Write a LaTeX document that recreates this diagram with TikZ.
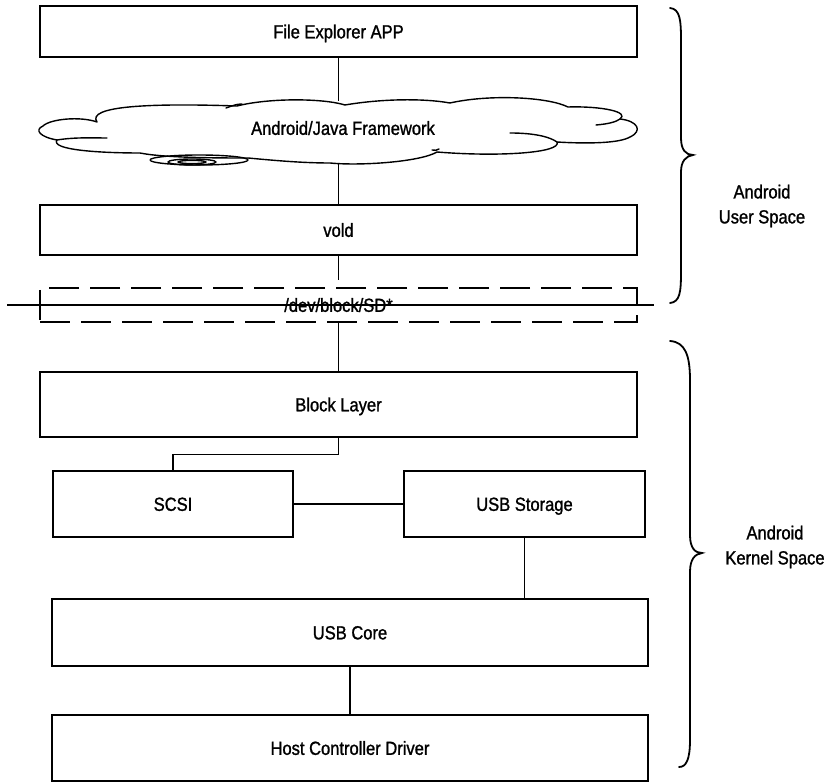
\documentclass[tikz,border=0pt]{standalone}
\usepackage{fontspec}
\setmainfont{Liberation Sans}[FakeStretch=0.87,FakeBold=1.2]
\begin{document}
\begin{tikzpicture}[x=1pt,y=-1pt,
  txt/.style={font=\fontsize{19}{24}\selectfont, text height=13.7pt, text depth=0pt},
  box/.style={draw, line width=1.4pt, inner sep=0pt, txt},
  dbox/.style={draw, line width=1.4pt, inner sep=0pt, dash pattern=on 30pt off 11pt, txt},
  conn/.style={line width=1.3pt},
  brace/.style={line width=1.8pt, line cap=round},
  lbl/.style={align=center, font=\fontsize{19}{25}\selectfont, inner sep=0pt},
  cloudline/.style={line width=1.4pt, line cap=round, line join=round}]
\useasboundingbox (0,0) rectangle (828,783);

% boxes
\node[box, minimum width=597pt, minimum height=51pt] (fe) at (338.5,31.5) {File Explorer APP};
\node[box, minimum width=597pt, minimum height=50pt] (vold) at (338.5,230) {vold};
\node[dbox, minimum width=597pt, minimum height=34pt] (dev) at (338.5,305) {/dev/block/SD*};
\node[box, minimum width=597pt, minimum height=65pt] (block) at (338.5,404.5) {Block Layer};
\node[box, minimum width=240pt, minimum height=66pt] (scsi) at (173,504) {SCSI};
\node[box, minimum width=241pt, minimum height=66pt] (usbs) at (524.5,504) {USB Storage};
\node[box, minimum width=596pt, minimum height=67pt] (core) at (350,632.5) {USB Core};
\node[box, minimum width=596pt, minimum height=66pt] (hcd) at (350,748) {Host Controller Driver};

% cloud
\draw[cloudline] (97,122)
  .. controls (86,106) and (150,103) .. (237,106)
  .. controls (268,98) and (322,98) .. (345,105)
  .. controls (380,99) and (422,98) .. (450,103)
  .. controls (490,94) and (548,97) .. (568,107)
  .. controls (602,106) and (630,112) .. (620,119)
  .. controls (638,121) and (643,131) .. (630,137)
  .. controls (620,143) and (590,144) .. (557,142)
  .. controls (562,153) and (498,157) .. (437,152)
  .. controls (420,162) and (360,166) .. (330,163)
  .. controls (300,163) and (270,160) .. (248,158)
  .. controls (220,158) and (165,158) .. (140,153)
  .. controls (100,153) and (50,150) .. (57,140)
  .. controls (40,137) and (34,130) .. (43,126)
  .. controls (50,119) and (80,116) .. (97,122);
\draw[cloudline] (57,140) .. controls (75,137) and (95,138) .. (107,138);
\draw[cloudline] (510,133) .. controls (535,133) and (550,137) .. (557,142);
\draw[cloudline] (596,125) .. controls (608,124) and (616,122) .. (620,119);
\draw[cloudline] (226,108) .. controls (232,106) and (236,104) .. (242,104);
\draw[cloudline] (432,150) .. controls (435,151) and (437,150) .. (439,149);
\draw[cloudline] (199,160) ellipse (49 and 5);
\draw[cloudline] (192,162) ellipse (24 and 3);
\draw[cloudline] (192,162) ellipse (14 and 1.6);
\node[inner sep=0pt, txt] (cloud) at (343,128) {Android/Java Framework};
\coordinate (ct) at (338.5,101);
\coordinate (cb) at (338.5,163);
\coordinate (vfree) at (338.5,280);
\coordinate (hl) at (7,305);
\coordinate (hr) at (654,305);

% connectors
\draw[conn] (fe.south) -- (ct);
\draw[conn] (cb) -- (vold.north);
\draw[conn] (vold.south) -- (vfree);
\draw[conn] (hl) -- (hr);
\draw[conn] (dev.south) -- (block.north);
\draw[conn] (block.south) -- ++(0,17) -| (scsi.north);
\draw[conn] (scsi.east) -- (usbs.west);
\draw[conn] (usbs.south) -- (usbs.south |- core.north);
\draw[conn] (core.south) -- (hcd.north);

% braces
\draw[brace] (670,8) .. controls (680,9) and (681,20) .. (681,40) -- (681,138)
  .. controls (681,150) and (686,155) .. (693,155)
  .. controls (686,156) and (681,161) .. (681,172) -- (681,272)
  .. controls (681,292) and (680,302) .. (670,303);
\draw[brace] (670,341) .. controls (685,342) and (690,355) .. (690,380) -- (690,535)
  .. controls (690,548) and (695,553) .. (702,553)
  .. controls (695,554) and (690,559) .. (690,572) -- (690,740)
  .. controls (690,760) and (686,767) .. (679,767);

\node[lbl] (us) at (762,206) {Android\\User Space};
\node[lbl] (ks) at (775,547) {Android\\Kernel Space};
\end{tikzpicture}
\end{document}
